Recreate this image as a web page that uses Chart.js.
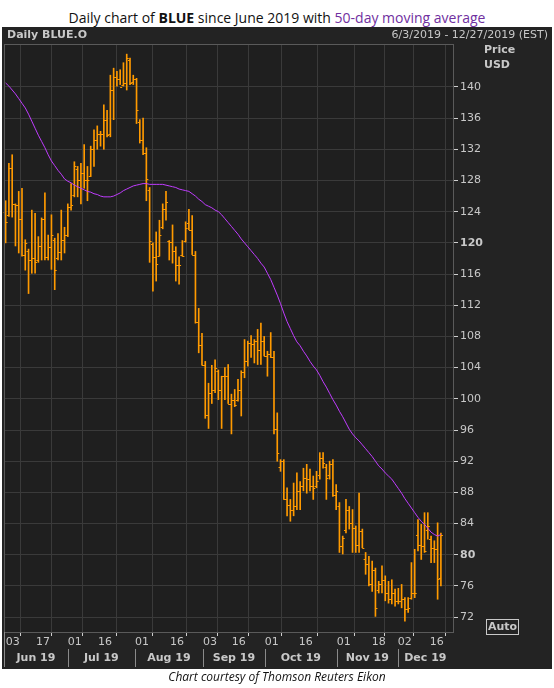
<!DOCTYPE html>
<html>
<head>
<meta charset="utf-8">
<script src="https://cdn.jsdelivr.net/npm/chart.js@4.4.1/dist/chart.umd.min.js"></script>
<style>
  body { margin: 0; background: #fff; width: 554px; height: 688px; position: relative; overflow: hidden; }
  #title { position: absolute; top: 8px; left: 0; width: 554px; text-align: center; font: 14px "Open Sans", sans-serif; color: #111; }
  #title span { color: #7030a0; }
  #panel { position: absolute; left: 2px; top: 27px; width: 550px; height: 642px; background: #232323; }
  #hdrL { position: absolute; left: 5px; top: 1px; font: bold 11px "DejaVu Sans", sans-serif; color: #c8c8c8; }
  #hdrR { position: absolute; right: 4px; top: 1px; font: 11px "DejaVu Sans", sans-serif; color: #c8c8c8; }
  #caption { position: absolute; top: 668px; left: 0; width: 554px; text-align: center; font: italic 12px "Open Sans", sans-serif; color: #111; }
</style>
</head>
<body>
<div id="title">Daily chart of <b>BLUE</b> since June 2019 with <span>50-day moving average</span></div>
<div id="panel">
  <canvas id="c" width="550" height="642"></canvas>
  <div id="hdrL">Daily BLUE.O</div>
  <div id="hdrR">6/3/2019 - 12/27/2019 (EST)</div>
</div>
<div id="caption">Chart courtesy of Thomson Reuters Eikon</div>
<script>
// daily bars, June 3 2019 onward
const highs = [125.4,130.2,131.3,125,126.6,127,120.4,119.2,124.2,123.8,120.8,123.2,126.4,121,123.6,120.6,121.2,124.2,122,125,
  127.6,130.4,129.8,130.2,132.6,129.8,132.4,134.5,135,134.3,137.7,137,141.5,142.4,142,142.2,143.1,144.2,143.7,141.5,
  141.1,135.8,136,132.2,127.1,120,121.4,122.9,125,126.6,120.3,122.3,119.5,118.2,120.3,122.7,124.3,123.5,118.9,111.6,
  108.4,104.8,102,104.3,105,103.7,102.9,104,104.4,100.6,101.2,102.5,103.6,107.6,107.4,108.1,107.6,108.9,109.7,108,
  106.1,108.5,106.1,98.2,92.2,92.2,88.6,87.1,89.2,90.5,89.4,91.1,91.6,91,90.1,90.7,93.1,93.1,91.6,92,
  92.2,89,86.7,82.4,87.1,86.2,85.8,83.7,87.9,83.3,80.3,79.8,79.2,78.3,76.6,78.6,77.3,76.6,76.8,75.6,
  75.7,76.2,74.5,74.5,79,80.7,84.5,83.9,85.4,85.4,82.4,81.8,84.1,82.8];
const lows = [120,123.4,123.3,119.6,118.7,118.3,116.5,113.5,116.1,116.1,117.5,117.8,117.8,117.8,116.6,114,117.8,117.8,118.7,120.8,
  124.2,125.9,125.9,125,127,125.4,128.5,129.8,132,132.4,132,133.6,133.6,135.8,140.1,140.3,140.1,139.6,140.3,140.3,
  135.3,132.8,131.3,125.4,117.5,113.8,115.1,118.3,121.8,122.9,117.8,117.4,115.1,114.7,118.3,120.1,121.7,118.5,109.7,105.9,
  104.3,97.5,96.2,99.4,100.8,99.9,96.2,99.9,99.4,95.5,99,99.7,97.8,102.7,104.2,105.3,104.6,104.4,104.4,105.5,
  102.9,105.3,95.5,92,90.7,87.1,85,84.3,85,85.8,85.8,88.2,87.9,88.2,87.1,88.6,89.7,91.1,87.1,89.7,
  87.5,85.8,80.3,80.1,82.8,83.3,80.3,80.3,80.3,80.9,77.5,76,75.3,72.1,75.1,75.1,74.1,73.8,73.7,73.4,
  73.7,73.2,71.5,72.6,74.3,74.5,80.5,79.4,80.3,82,79,79,74.3,76];
const opens = [124,123.6,129.6,125,124.8,123,118.5,119,117.8,118,117.8,119.6,123,118.2,119.5,120.4,118,118.8,120.4,121,
  124.6,126.2,129.5,128,129,128,128.6,132,133.2,134,134,135.8,134,139.6,141.3,141,140.3,140.5,143.5,140.6,
  141,135.5,133.2,131.5,126.8,119.8,118.2,118.3,122,124.4,120.2,120.1,118.9,117.2,118.5,120.2,122.5,121.7,118.5,109.9,
  106.9,104.4,97.9,100.7,101.1,103.6,101.1,102.9,102.9,99.4,99.9,99.8,101.1,103.4,104.9,107.2,107,107.4,106.3,107.4,
  105.5,105.8,105.3,96.1,91.2,92,87.1,86.4,85.8,86.2,88.2,88.8,89.9,89.7,88.8,88.8,90.2,92.4,91.2,90.2,
  91.6,87.7,86.2,81.1,83.2,85.8,84.1,83.5,81.3,83.1,79.5,78.8,76.2,78,75.5,76.2,76.8,75.1,74.3,75.1,
  74.1,74.1,74.3,73,74.5,75.1,82.5,81.3,81.1,83.2,82,80.9,80.7,77];
const closes = [122.7,129.6,125,124.8,123,118.5,120,117.8,118,117.5,119.6,123,118.2,119.5,121,116.5,118.8,120.4,121,124.6,
  124.8,129.8,128,129,128,128,132,133.2,134,134,135.8,133.8,139.6,141.3,141,140,140.5,143.7,140.5,141,
  137,133.2,131.5,128.2,120.3,118.2,117.3,121,124.4,125.3,120.1,118.9,117.2,117.2,118.3,121.9,121.7,118.5,109.9,106.9,
  104.4,97.9,100.7,101.1,104,101.1,102.9,102.9,99.4,99.9,99.2,101.1,103.4,104.9,107.2,107,107.4,106.3,107.4,105.5,
  105.8,105.3,96.1,93.1,92,87.1,86.4,85.8,86.2,88.2,88.8,89.9,89.7,88.8,88.6,89.4,92.4,91.8,89.9,91.6,
  87.7,88.2,81.1,82.2,85.8,84.1,83.5,81.3,83.1,80.9,78.8,76.2,78.1,73.2,76.2,76.8,75.1,74.3,75.1,74.1,
  74.1,74.3,73,73.2,75.1,75.1,81.3,81.1,80.5,83.7,80.9,80.7,76.9,82.6];
const ma50 = [140.5,140.1,139.6,139.1,138.5,137.9,137.3,136.5,135.6,134.7,133.8,133,132.2,131.3,130.5,129.9,129.3,128.8,128.2,127.9,
  127.7,127.4,127.2,127,126.8,126.6,126.5,126.3,126.2,126,125.9,125.9,125.9,126,126.2,126.4,126.7,126.9,127.1,127.3,
  127.4,127.5,127.6,127.6,127.5,127.5,127.5,127.5,127.5,127.4,127.3,127.2,127.1,126.9,126.8,126.7,126.6,126.3,126,125.6,
  125.3,124.9,124.7,124.5,124.2,124,123.6,123.1,122.6,122.1,121.6,121.1,120.5,120,119.5,119,118.5,118,117.4,116.9,
  116.1,115.3,114.3,113.3,112.2,111,109.9,109,108.1,107.3,106.8,106.1,105.5,104.8,104.2,103.7,103,102.2,101.5,100.7,
  99.9,99.2,98.4,97.7,96.9,96.1,95.5,95,94.6,94.1,93.6,93.1,92.6,92,91.4,91,90.5,90.1,89.7,89.1,
  88.5,87.9,87.2,86.6,86,85.4,84.8,84.3,83.9,83.4,82.9,82.6,82.4,82.6];

// x axis (in bar units) day ticks and month spans
const dayTickPos = [0, 9.3, 19.0, 28.2, 39.5, 50.2, 60.3, 69.1, 79.2, 89.6, 101.2, 111.9, 119.8, 129.6];
const dayTickLabels = ['03','17','01','16','01','16','03','16','01','16','01','18','02','16'];
const monthStarts = [-0.5, 19.0, 39.5, 60.3, 79.2, 101.2, 119.8, 136.7];
const monthLabels = ['Jun 19','Jul 19','Aug 19','Sep 19','Oct 19','Nov 19','Dec 19'];
const priceTicks = [72,76,80,84,88,92,96,100,104,108,112,116,120,124,128,132,136,140];

const ORANGE = '#ff9a00';
const rangeData = highs.map((h, i) => ({ x: i, y: [lows[i], h] }));
const maData = ma50.map((v, i) => ({ x: i, y: v }));

const ohlcTicks = {
  id: 'ohlcTicks',
  afterDatasetsDraw(chart) {
    const { ctx, scales: { x, y } } = chart;
    ctx.save();
    ctx.strokeStyle = ORANGE;
    ctx.lineWidth = 1;
    ctx.beginPath();
    opens.forEach((o, i) => {
      const px = x.getPixelForValue(i);
      const yo = Math.round(y.getPixelForValue(o)) + 0.5;
      const yc = Math.round(y.getPixelForValue(closes[i])) + 0.5;
      ctx.moveTo(px - 2, yo); ctx.lineTo(px, yo);
      ctx.moveTo(px, yc); ctx.lineTo(px + 2, yc);
    });
    ctx.stroke();
    ctx.restore();
  }
};

const frame = {
  id: 'frame',
  beforeDraw(chart) {
    const { ctx, chartArea: a } = chart;
    ctx.save();
    ctx.fillStyle = '#1f1f1f';
    ctx.fillRect(a.left, a.top, a.width, a.height);
    ctx.restore();
  },
  afterDraw(chart) {
    const { ctx, chartArea: a, scales: { x } } = chart;
    ctx.save();
    ctx.strokeStyle = '#5a5a5a';
    ctx.lineWidth = 1;
    ctx.strokeRect(a.left + 0.5, a.top + 0.5, a.width, a.height);
    // y axis titles
    ctx.fillStyle = '#c8c8c8';
    ctx.font = 'bold 11px "DejaVu Sans"';
    ctx.textAlign = 'left';
    ctx.textBaseline = 'middle';
    ctx.fillText('Price', a.right + 31, a.top + 6);
    ctx.fillText('USD', a.right + 31, a.top + 21);
    // Auto box
    ctx.fillText('Auto', a.right + 35, a.bottom - 5);
    ctx.strokeStyle = '#c8c8c8';
    ctx.strokeRect(a.right + 33.5, a.bottom - 12.5, 32, 15);
    // month row
    ctx.strokeStyle = '#8a8a8a';
    ctx.textAlign = 'center';
    ctx.font = 'bold 11px "DejaVu Sans"';
    monthLabels.forEach((m, i) => {
      const x0 = x.getPixelForValue(monthStarts[i]);
      const x1 = x.getPixelForValue(monthStarts[i + 1]);
      ctx.fillText(m, (x0 + x1) / 2, a.bottom + 26);
      if (i > 0) {
        ctx.beginPath();
        ctx.moveTo(Math.round(x0) + 0.5, a.bottom + 17);
        ctx.lineTo(Math.round(x0) + 0.5, a.bottom + 35);
        ctx.stroke();
      }
    });
    ctx.beginPath();
    ctx.moveTo(a.left + 0.5, a.bottom);
    ctx.lineTo(a.left + 0.5, a.bottom + 35);
    ctx.stroke();
    ctx.restore();
  }
};

new Chart(document.getElementById('c'), {
  data: {
    datasets: [
      { type: 'line', data: maData, borderColor: '#c03cff', borderWidth: 1, pointRadius: 0, tension: 0, order: 0 },
      { type: 'bar', data: rangeData, backgroundColor: ORANGE, barThickness: 1, order: 1 }
    ]
  },
  options: {
    responsive: false,
    animation: false,
    layout: { padding: { left: 2, top: 17, right: 0, bottom: 0 } },
    plugins: { legend: { display: false }, tooltip: { enabled: false } },
    scales: {
      x: {
        type: 'linear', min: -0.5, max: 136.7, offset: false,
        afterBuildTicks: s => { s.ticks = dayTickPos.map(v => ({ value: v })); },
        afterFit: s => { s.height = 37; },
        grid: { color: '#3a3a3a', tickColor: '#cfcfcf', tickLength: 4 },
        border: { display: false },
        ticks: {
          align: 'start', padding: 0, color: '#c8c8c8', maxRotation: 0, autoSkip: false,
          font: { family: 'DejaVu Sans', size: 11 },
          callback: (v, i) => dayTickLabels[i]
        }
      },
      y: {
        position: 'right', min: 70.1, max: 145.5,
        afterBuildTicks: s => { s.ticks = priceTicks.map(v => ({ value: v })); },
        afterFit: s => { s.width = 99; },
        grid: { color: '#3a3a3a', tickColor: '#cfcfcf', tickLength: 5 },
        border: { display: false },
        ticks: {
          padding: 2, color: '#c8c8c8',
          font: c => ({ family: 'DejaVu Sans', size: 11, weight: (c.tick && c.tick.value % 40 === 0) ? 'bold' : 'normal' })
        }
      }
    }
  },
  plugins: [frame, ohlcTicks]
});
</script>
</body>
</html>
